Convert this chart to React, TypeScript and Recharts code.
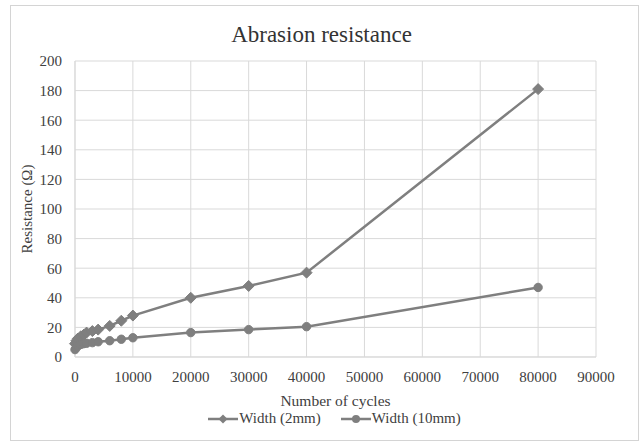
import React from 'react';
import { LineChart, Line, XAxis, YAxis, CartesianGrid, Legend } from 'recharts';

const cycles = [0, 250, 500, 1000, 1500, 2000, 3000, 4000, 6000, 8000, 10000, 20000, 30000, 40000, 80000];
const width2mm = [9, 11, 12.5, 14, 15, 16.5, 17.5, 18.5, 21, 24.5, 28, 40, 48, 57, 181];
const width10mm = [5, 6.5, 7.5, 8.5, 9, 9.3, 9.7, 10.3, 11, 12, 13, 16.5, 18.5, 20.5, 47];
const xTicks = [0, 10000, 20000, 30000, 40000, 50000, 60000, 70000, 80000, 90000];
const yTicks = [0, 20, 40, 60, 80, 100, 120, 140, 160, 180, 200];
const seriesNames = ['Width (2mm)', 'Width (10mm)'];

const data = cycles.map((c, i) => ({ cycles: c, w2: width2mm[i], w10: width10mm[i] }));

const FONT = '"Liberation Serif", "Times New Roman", serif';
const GRAY = '#7f7f7f';
const TEXT = '#404040';

const Diamond = (props: any) => {
  const { cx, cy, index } = props;
  if (cx == null || cy == null) return <g key={`d-${index}`} />;
  const s = 5.5;
  return (
    <path
      key={`d-${index}`}
      d={`M${cx},${cy - s}L${cx + s},${cy}L${cx},${cy + s}L${cx - s},${cy}Z`}
      fill={GRAY}
      stroke={GRAY}
      strokeWidth={1}
    />
  );
};

const CircleDot = (props: any) => {
  const { cx, cy, index } = props;
  if (cx == null || cy == null) return <g key={`c-${index}`} />;
  return <circle key={`c-${index}`} cx={cx} cy={cy} r={4.2} fill={GRAY} stroke={GRAY} strokeWidth={1} />;
};

const LegendContent = () => (
  <div style={{ display: 'flex', justifyContent: 'center', alignItems: 'center', fontFamily: FONT, fontSize: 15, color: TEXT, paddingLeft: 26 }}>
    <div style={{ display: 'flex', alignItems: 'center', marginRight: 20 }}>
      <svg width={30} height={12}>
        <line x1={0} y1={6} x2={30} y2={6} stroke={GRAY} strokeWidth={2.5} />
        <path d="M15,1.5L19.5,6L15,10.5L10.5,6Z" fill={GRAY} />
      </svg>
      <span style={{ marginLeft: 1 }}>{seriesNames[0]}</span>
    </div>
    <div style={{ display: 'flex', alignItems: 'center' }}>
      <svg width={30} height={12}>
        <line x1={0} y1={6} x2={30} y2={6} stroke={GRAY} strokeWidth={2.5} />
        <circle cx={15} cy={6} r={4} fill={GRAY} />
      </svg>
      <span style={{ marginLeft: 1 }}>{seriesNames[1]}</span>
    </div>
  </div>
);

export default function App() {
  return (
    <div style={{ position: 'absolute', left: 0, top: 0, width: 643, height: 445, background: '#fff' }}>
      <div style={{ position: 'absolute', left: 10, top: 5, width: 629, height: 436, border: '1px solid #d4d4d4', boxSizing: 'border-box' }} />
      <div style={{ position: 'absolute', left: 0, top: 21, width: 643, textAlign: 'center', fontFamily: FONT, fontSize: 23, color: '#333', lineHeight: '28px' }}>
        Abrasion resistance
      </div>
      <div style={{ position: 'absolute', left: 0, top: 0 }}>
        <LineChart width={643} height={445} data={data} margin={{ top: 61, right: 47, bottom: 36, left: 0 }}>
          <CartesianGrid stroke="#d9d9d9" strokeWidth={1} />
          <XAxis
            dataKey="cycles"
            type="number"
            domain={[0, 90000]}
            ticks={xTicks}
            interval={0}
            height={52}
            tickLine={false}
            tickSize={6}
            tickMargin={8}
            axisLine={{ stroke: '#d9d9d9' }}
            tick={{ fill: TEXT, fontSize: 15, fontFamily: FONT }}
            label={{ value: 'Number of cycles', position: 'insideBottom', offset: 3, fill: TEXT, fontSize: 15.5, fontFamily: FONT }}
          />
          <YAxis
            type="number"
            domain={[0, 200]}
            ticks={yTicks}
            interval={0}
            width={75}
            tickLine={false}
            tickSize={6}
            tickMargin={7}
            axisLine={{ stroke: '#d9d9d9' }}
            tick={{ fill: TEXT, fontSize: 15, fontFamily: FONT }}
            label={{ value: 'Resistance (Ω)', angle: -90, position: 'insideLeft', dx: 22, fill: TEXT, fontSize: 15, fontFamily: FONT, style: { textAnchor: 'middle' } }}
          />
          <Legend
            layout="horizontal"
            verticalAlign="middle"
            align="center"
            content={<LegendContent />}
            wrapperStyle={{ top: 410, left: 0, width: 643 }}
          />
          <Line type="linear" dataKey="w2" name={seriesNames[0]} stroke={GRAY} strokeWidth={2.5} dot={Diamond} activeDot={false} isAnimationActive={false} />
          <Line type="linear" dataKey="w10" name={seriesNames[1]} stroke={GRAY} strokeWidth={2.5} dot={CircleDot} activeDot={false} isAnimationActive={false} />
        </LineChart>
      </div>
    </div>
  );
}
